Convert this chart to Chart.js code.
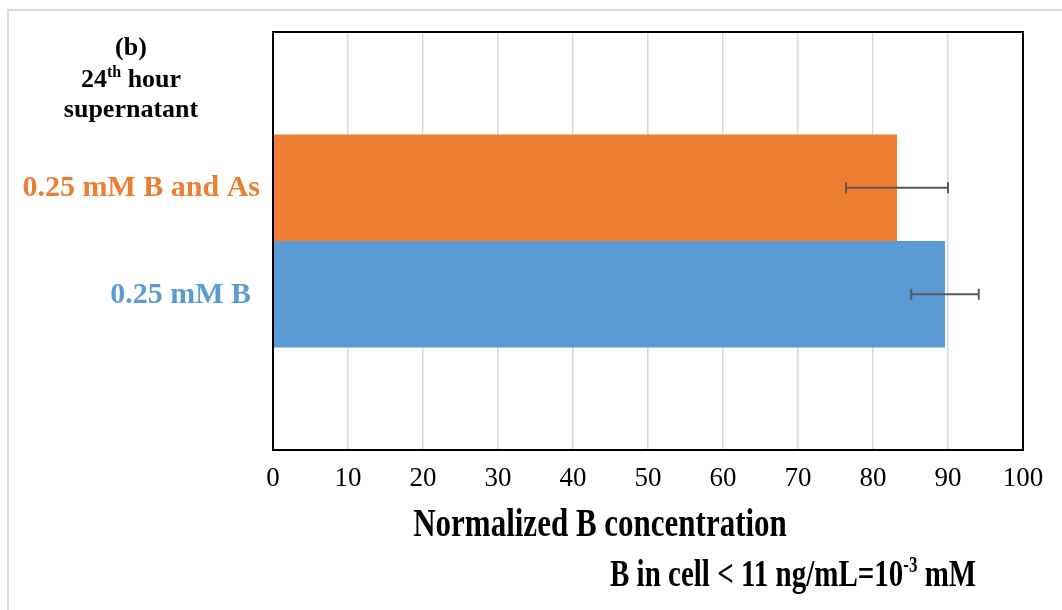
<!DOCTYPE html>
<html>
<head>
<meta charset="utf-8">
<script src="https://cdn.jsdelivr.net/npm/chart.js@4/dist/chart.umd.min.js"></script>
<style>
    html, body { margin: 0; padding: 0; background: #fff; }
    #wrap { position: relative; width: 1062px; height: 610px; }
    #frame { position: absolute; left: 7px; top: 9px; width: 1060px; height: 610px; border-left: 2px solid #dcdcdc; border-top: 2px solid #dcdcdc; }
    canvas { position: absolute; left: 0; top: 0; }
</style>
</head>
<body>
<div id="wrap">
    <div id="frame"></div>
    <canvas id="chart" width="1062" height="610"></canvas>
</div>
<script>
// Séries (valeur normalisée et barre d'erreur)
const seriesNames = ['0.25 mM B and As', '0.25 mM B'];
const seriesValues = [83.2, 89.6];
const seriesErrors = [6.8, 4.5];
const seriesColors = ['#ED7D31', '#5B9BD5'];
const xTicks = [0, 10, 20, 30, 40, 50, 60, 70, 80, 90, 100];

const SERIF = '"Liberation Serif", "Times New Roman", serif';

// Texte étiré verticalement (comme dans la figure d'origine)
function stretchedText(ctx, text, x, y, font, sy, align) {
    ctx.save();
    ctx.font = font;
    ctx.textAlign = align || 'left';
    ctx.textBaseline = 'middle';
    ctx.translate(x, y);
    ctx.scale(1, sy);
    ctx.fillText(text, 0, 0);
    ctx.restore();
}

const annotations = {
    id: 'annotations',
    afterDatasetsDraw(chart) {
        const ctx = chart.ctx;
        const area = chart.chartArea;
        const xs = chart.scales.x;

        // barres d'erreur
        ctx.save();
        ctx.strokeStyle = '#595959';
        ctx.lineWidth = 2;
        chart.data.datasets.forEach((ds, i) => {
            const bar = chart.getDatasetMeta(i).data[0];
            const y = bar.y;
            const x1 = xs.getPixelForValue(seriesValues[i] - seriesErrors[i]);
            const x2 = xs.getPixelForValue(seriesValues[i] + seriesErrors[i]);
            ctx.beginPath();
            ctx.moveTo(x1, y); ctx.lineTo(x2, y);
            ctx.moveTo(x1, y - 5.5); ctx.lineTo(x1, y + 5.5);
            ctx.moveTo(x2, y - 5.5); ctx.lineTo(x2, y + 5.5);
            ctx.stroke();
        });
        ctx.restore();

        // cadre du graphique
        ctx.save();
        ctx.strokeStyle = '#000';
        ctx.lineWidth = 2;
        ctx.strokeRect(area.left, area.top, area.right - area.left, area.bottom - area.top);
        ctx.restore();

        // étiquettes des séries à gauche
        ctx.save();
        ctx.font = 'bold 30px ' + SERIF;
        ctx.textAlign = 'right';
        ctx.textBaseline = 'middle';
        chart.data.datasets.forEach((ds, i) => {
            const bar = chart.getDatasetMeta(i).data[0];
            ctx.fillStyle = seriesColors[i];
            ctx.fillText(seriesNames[i], i === 0 ? 260 : 251, bar.y + 1);
        });
        ctx.restore();

        // titre (b)
        ctx.save();
        ctx.fillStyle = '#000';
        ctx.textBaseline = 'middle';
        ctx.textAlign = 'center';
        ctx.font = 'bold 26px ' + SERIF;
        ctx.fillText('(b)', 131, 48);
        ctx.fillText('supernatant', 131, 110);
        // 24th hour avec exposant
        const big = 'bold 26px ' + SERIF, small = 'bold 16px ' + SERIF;
        ctx.font = big; const w1 = ctx.measureText('24').width, w3 = ctx.measureText(' hour').width;
        ctx.font = small; const w2 = ctx.measureText('th').width;
        let x = 131 - (w1 + w2 + w3) / 2;
        ctx.textAlign = 'left';
        ctx.font = big; ctx.fillText('24', x, 80); x += w1;
        ctx.font = small; ctx.fillText('th', x, 73); x += w2;
        ctx.font = big; ctx.fillText(' hour', x, 80);
        ctx.restore();

        // titre de l'axe et note
        ctx.save();
        ctx.fillStyle = '#000';
        stretchedText(ctx, 'Normalized B concentration', 600, 526, 'bold 31px ' + SERIF, 1.3, 'center');
        const nf = 'bold 29px ' + SERIF;
        ctx.font = nf;
        const p1 = 'B in cell < 11 ng/mL=10', p2 = ' mM';
        const wa = ctx.measureText(p1).width;
        ctx.font = 'bold 17px ' + SERIF;
        const wb = ctx.measureText('-3').width;
        let nx = 610;
        stretchedText(ctx, p1, nx, 576, nf, 1.3, 'left');
        stretchedText(ctx, '-3', nx + wa, 566, 'bold 17px ' + SERIF, 1.3, 'left');
        stretchedText(ctx, p2, nx + wa + wb, 576, nf, 1.3, 'left');
        ctx.restore();
    }
};

new Chart(document.getElementById('chart').getContext('2d'), {
    type: 'bar',
    data: {
        labels: ['24th hour supernatant'],
        datasets: seriesNames.map((name, i) => ({
            label: name,
            data: [seriesValues[i]],
            backgroundColor: seriesColors[i],
            borderWidth: 0,
            barPercentage: 1,
            categoryPercentage: 0.51
        }))
    },
    options: {
        indexAxis: 'y',
        responsive: false,
        animation: false,
        layout: { padding: { left: 273, right: 39, top: 32, bottom: 0 } },
        scales: {
            x: {
                min: 0,
                max: 100,
                afterBuildTicks: (scale) => { scale.ticks = xTicks.map(v => ({ value: v })); },
                afterFit: (scale) => { scale.height = 160; },
                grid: { color: '#d9d9d9', lineWidth: 1.5, drawTicks: false },
                border: { display: false },
                ticks: {
                    padding: 13,
                    color: '#000',
                    font: { family: SERIF, size: 27 }
                }
            },
            y: { display: false, grid: { display: false } }
        },
        plugins: {
            legend: { display: false },
            tooltip: { enabled: false }
        }
    },
    plugins: [annotations]
});
</script>
</body>
</html>
